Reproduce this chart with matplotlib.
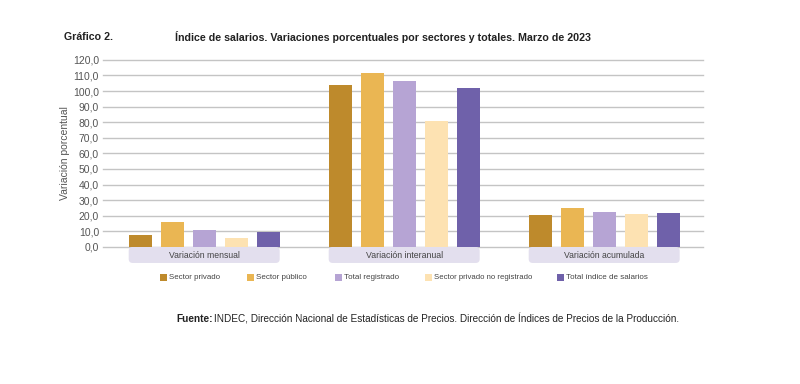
import matplotlib
matplotlib.use("Agg")
from matplotlib import pyplot as plt
from matplotlib.patches import FancyBboxPatch, Rectangle
import numpy as np

# data
groups = ["Variación mensual", "Variación interanual", "Variación acumulada"]
series = ["Sector privado", "Sector público", "Total registrado",
          "Sector privado no registrado", "Total índice de salarios"]
privado = [7.8, 104.0, 20.5]
publico = [15.8, 111.9, 25.0]
registrado = [10.9, 106.7, 22.3]
no_registrado = [6.0, 80.9, 21.0]
total = [9.8, 102.0, 21.8]
yticks = np.arange(0, 121, 10)

colors = ["#BE8A2C", "#EAB653", "#B6A4D4", "#FDE2B2", "#6F61AA"]
values = [privado, publico, registrado, no_registrado, total]

plt.rcParams["font.family"] = ["Liberation Sans", "DejaVu Sans"]

fig = plt.figure(figsize=(8, 3.84), dpi=100, facecolor="white")
renderer = fig.canvas.get_renderer()


def fit_width(txt, target_px):
    """shrink a text so it is about as wide as in the reference"""
    w = txt.get_window_extent(renderer=renderer).width
    txt.set_fontsize(txt.get_fontsize() * target_px / w)


ax = fig.add_axes([0.129, 0.357, 0.75, 0.487])

x = np.arange(len(groups))
step = 0.16
width = 0.115
for i, (vals, c) in enumerate(zip(values, colors)):
    ax.bar(x + (i - 2) * step, vals, width=width, color=c, zorder=3)

ax.set_xlim(-0.505, 2.495)
ax.set_ylim(0, 120)
ax.set_yticks(yticks)
ax.set_yticklabels([f"{v:.1f}".replace(".", ",") for v in yticks],
                   fontsize=7.5, color="#555555")
ax.tick_params(axis="y", length=0, pad=3)
ax.set_xticks([])
for s in ax.spines.values():
    s.set_visible(False)
for t in yticks:
    ax.plot([-0.505, 2.495], [t, t], color="#c4c4c4", lw=1, zorder=1, clip_on=False)

ax.set_ylabel("Variación porcentual", fontsize=7.5, color="#555555", labelpad=2)

# group label boxes under the axis
group_w = [70, 77, 80]
for xi, g, gw in zip(x, groups, group_w):
    left = xi - 2 * step - width / 2
    right = xi + 2 * step + width / 2
    box = FancyBboxPatch((left, -10.3), right - left, 10.3,
                         boxstyle="round,pad=0,rounding_size=0.02",
                         mutation_aspect=128, facecolor="#E3DFEE",
                         edgecolor="none", clip_on=False, zorder=2)
    ax.add_patch(box)
    t = ax.text(xi, -5.2, g, ha="center", va="center", fontsize=7,
                color="#444444")
    fit_width(t, gw)

# legend
leg_x = [160, 247, 335, 425, 557]
leg_w = [51, 51, 55, 97, 81]
for lx, lw, name, c in zip(leg_x, leg_w, series, colors):
    fig.patches.append(Rectangle((lx / 800, 1 - 281 / 384), 7 / 800, 7 / 384,
                                 transform=fig.transFigure, facecolor=c,
                                 edgecolor="none"))
    t = fig.text((lx + 9) / 800, 1 - 277.5 / 384, name, fontsize=6.5,
                 color="#444444", va="center", ha="left")
    fit_width(t, lw)

# titles
t = fig.text(64 / 800, 1 - 37 / 384, "Gráfico 2.", fontsize=8, weight="bold",
             color="#222222", va="center")
fit_width(t, 49)
t = fig.text(175 / 800, 1 - 37 / 384,
             "Índice de salarios. Variaciones porcentuales por sectores y totales. Marzo de 2023",
             fontsize=8, weight="bold", color="#222222", va="center")
fit_width(t, 419)

# source
fig.text(176 / 800, 1 - 319 / 384, "Fuente:", fontsize=7.25, weight="bold",
         color="#222222", va="center")
fig.text(214 / 800, 1 - 319 / 384,
         "INDEC, Dirección Nacional de Estadísticas de Precios. Dirección de Índices de Precios de la Producción.",
         fontsize=7.2, color="#222222", va="center")

fig.savefig("out.png", dpi=100, facecolor="white")
